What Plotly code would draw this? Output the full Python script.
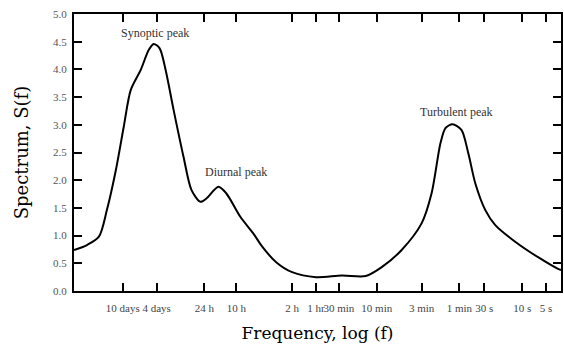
import plotly.graph_objects as go

# x positions on a schematic log-frequency axis (arbitrary position units)
tick_pos = [49, 83, 131, 163, 219, 243, 266, 304, 349, 387, 412, 450, 474]
tick_text = ["10 days", "4 days", "24 h", "10 h", "2 h", "1 hr", "30 min",
             "10 min", "3 min", "1 min", "30 s", "10 s", "5 s"]

curve_x = [0, 13, 25, 33, 42, 50, 57, 67, 75, 80, 86, 92, 100, 110, 118, 127,
           133, 145, 153, 167, 180, 189, 203, 219, 243, 269, 293, 309, 329,
           349, 359, 368, 373, 380, 389, 396, 403, 413, 423, 443, 466, 486, 489]
curve_y = [0.74, 0.83, 0.98, 1.46, 2.18, 2.97, 3.63, 3.99, 4.35, 4.46, 4.38,
           3.99, 3.27, 2.42, 1.82, 1.61, 1.67, 1.88, 1.76, 1.34, 1.04, 0.80,
           0.52, 0.34, 0.25, 0.28, 0.27, 0.43, 0.74, 1.22, 1.76, 2.67, 2.94,
           3.01, 2.91, 2.48, 1.94, 1.46, 1.19, 0.89, 0.61, 0.40, 0.38]

peak_labels = ["Synoptic peak", "Diurnal peak", "Turbulent peak"]
peak_x = [81, 163, 384]
peak_y = [4.66, 2.15, 3.23]

fig = go.Figure()
fig.add_trace(go.Scatter(x=curve_x, y=curve_y, mode="lines",
                         line=dict(color="black", width=2, shape="spline", smoothing=0.8),
                         hoverinfo="skip"))

for t, x, y in zip(peak_labels, peak_x, peak_y):
    fig.add_annotation(x=x, y=y, text=t, showarrow=False,
                       font=dict(family="Liberation Serif", size=12, color="#333"))

fig.update_layout(
    width=564, height=347,
    margin=dict(l=74, r=1, t=14, b=56),
    paper_bgcolor="white", plot_bgcolor="white",
    showlegend=False,
    xaxis=dict(range=[0, 489], tickvals=tick_pos, ticktext=tick_text, tickangle=0,
               ticks="inside", ticklen=8, tickwidth=1.5, tickcolor="black",
               showline=True, linecolor="black", linewidth=2, mirror="ticks",
               showgrid=False, zeroline=False, ticklabelstandoff=6,
               tickfont=dict(family="Liberation Serif", size=11, color="#444"),
               title=dict(text="Frequency, log (f)", standoff=14,
                          font=dict(family="DejaVu Serif", size=17, color="black"))),
    yaxis=dict(range=[0, 5], dtick=0.5, tickformat=".1f",
               ticks="inside", ticklen=8, tickwidth=1.5, tickcolor="black",
               showline=True, linecolor="black", linewidth=2, mirror="ticks",
               showgrid=False, zeroline=False, ticklabelstandoff=3,
               tickfont=dict(family="Liberation Serif", size=11, color="#555"),
               title=dict(text="Spectrum, S(f)", standoff=20,
                          font=dict(family="DejaVu Serif", size=18, color="black"))),
)

fig.write_html("out.html")
